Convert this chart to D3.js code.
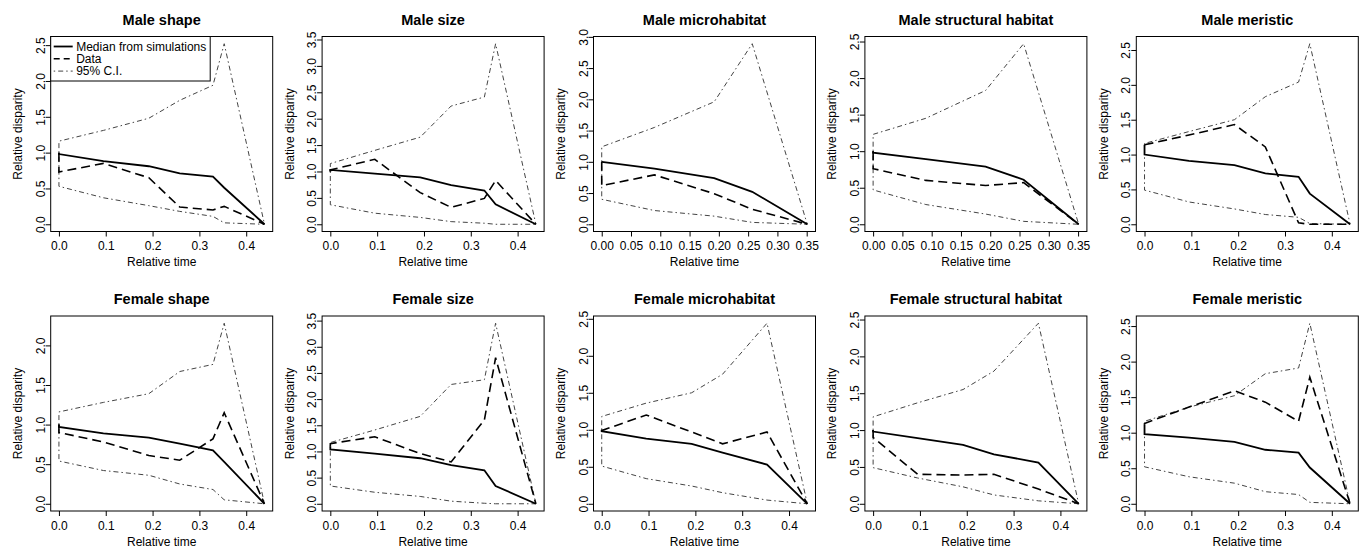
<!DOCTYPE html>
<html><head><meta charset="utf-8">
<script src="https://cdn.jsdelivr.net/npm/d3@7"></script>
<style>
body{margin:0;background:#fff}
svg{display:block}
text{font-family:"Liberation Sans",Arial,Helvetica,sans-serif;fill:#000}
</style>
</head><body><svg id="c" width="1360" height="547"></svg>
<script>
// ---------- data ----------
const panelTitles = ["Male shape","Male size","Male microhabitat","Male structural habitat","Male meristic",
  "Female shape","Female size","Female microhabitat","Female structural habitat","Female meristic"];
const timesFull = [0, 0, 0.095, 0.192, 0.258, 0.329, 0.353, 0.439];
const timesMaleHabitat = [0, 0, 0.09, 0.192, 0.257, 0.351];
const timesFemaleHabitat = [0, 0, 0.095, 0.192, 0.258, 0.353, 0.439];
const xTicksWide = [0, 0.1, 0.2, 0.3, 0.4];
const xTicksNarrow = [0, 0.05, 0.1, 0.15, 0.2, 0.25, 0.3, 0.35];
const legendLabels = ["Median from simulations", "Data", "95% C.I."];
const xLabel = "Relative time";
const yLabel = "Relative disparity";

const maleShapeMedian = [1.0, 0.98, 0.88, 0.81, 0.71, 0.665, 0.51, 0];
const maleShapeData   = [1.0, 0.73, 0.85, 0.65, 0.24, 0.2, 0.25, 0];
const maleShapeUpper  = [1.0, 1.16, 1.31, 1.48, 1.73, 1.94, 2.52, 0];
const maleShapeLower  = [1.0, 0.53, 0.37, 0.26, 0.18, 0.11, 0.02, 0];

const maleSizeMedian = [1.0, 1.03, 0.96, 0.89, 0.74, 0.64, 0.38, 0];
const maleSizeData   = [1.0, 1.03, 1.23, 0.6, 0.32, 0.49, 0.83, 0];
const maleSizeUpper  = [1.0, 1.15, 1.4, 1.65, 2.24, 2.41, 3.42, 0];
const maleSizeLower  = [1.0, 0.37, 0.21, 0.13, 0.05, 0.02, 0.0, 0];

const maleMicroMedian = [1.0, 1.0, 0.89, 0.74, 0.52, 0];
const maleMicroData   = [1.0, 0.62, 0.79, 0.49, 0.24, 0];
const maleMicroUpper  = [1.0, 1.24, 1.55, 1.96, 2.89, 0];
const maleMicroLower  = [1.0, 0.4, 0.22, 0.13, 0.03, 0];

const maleStructMedian = [1.0, 0.98, 0.89, 0.79, 0.61, 0];
const maleStructData   = [1.0, 0.76, 0.6, 0.53, 0.57, 0];
const maleStructUpper  = [1.0, 1.23, 1.45, 1.83, 2.47, 0];
const maleStructLower  = [1.0, 0.47, 0.27, 0.14, 0.04, 0];

const maleMerMedian = [1.14, 1.0, 0.91, 0.85, 0.73, 0.68, 0.44, 0];
const maleMerData   = [1.14, 1.14, 1.28, 1.43, 1.11, 0.02, 0.0, 0];
const maleMerUpper  = [1.14, 1.16, 1.33, 1.5, 1.83, 2.04, 2.59, 0];
const maleMerLower  = [1.14, 0.49, 0.32, 0.22, 0.14, 0.1, 0.01, 0];

const femShapeMedian = [1.0, 0.97, 0.89, 0.835, 0.76, 0.675, 0.53, 0];
const femShapeData   = [1.0, 0.9, 0.78, 0.61, 0.55, 0.82, 1.15, 0];
const femShapeUpper  = [1.0, 1.16, 1.28, 1.39, 1.67, 1.76, 2.28, 0];
const femShapeLower  = [1.0, 0.54, 0.42, 0.36, 0.25, 0.18, 0.05, 0];

const femSizeMedian = [1.1, 1.04, 0.96, 0.87, 0.74, 0.64, 0.34, 0];
const femSizeData   = [1.1, 1.15, 1.28, 0.96, 0.8, 1.6, 2.79, 0];
const femSizeUpper  = [1.1, 1.17, 1.41, 1.67, 2.28, 2.37, 3.45, 0];
const femSizeLower  = [1.1, 0.34, 0.22, 0.14, 0.05, 0.01, 0.0, 0];

const femMicroMedian = [1.0, 0.98, 0.88, 0.81, 0.69, 0.53, 0];
const femMicroData   = [1.0, 0.99, 1.2, 0.97, 0.81, 0.97, 0];
const femMicroUpper  = [1.0, 1.18, 1.36, 1.5, 1.75, 2.44, 0];
const femMicroLower  = [1.0, 0.51, 0.34, 0.24, 0.15, 0.05, 0];

const femStructMedian = [1.0, 0.98, 0.89, 0.8, 0.67, 0.56, 0];
const femStructData   = [1.0, 0.9, 0.4, 0.39, 0.4, 0.2, 0];
const femStructUpper  = [1.0, 1.18, 1.37, 1.55, 1.8, 2.45, 0];
const femStructLower  = [1.0, 0.49, 0.35, 0.23, 0.12, 0.04, 0];

const femMerMedian = [1.12, 0.98, 0.93, 0.87, 0.76, 0.72, 0.51, 0];
const femMerData   = [1.12, 1.13, 1.36, 1.59, 1.43, 1.16, 1.78, 0];
const femMerUpper  = [1.12, 1.16, 1.36, 1.52, 1.83, 1.91, 2.54, 0];
const femMerLower  = [1.12, 0.52, 0.38, 0.29, 0.17, 0.13, 0.02, 0];

const panelTimes = [timesFull, timesFull, timesMaleHabitat, timesMaleHabitat, timesFull,
  timesFull, timesFull, timesFemaleHabitat, timesFemaleHabitat, timesFull];
const panelXTicks = [xTicksWide, xTicksWide, xTicksNarrow, xTicksNarrow, xTicksWide,
  xTicksWide, xTicksWide, xTicksWide, xTicksWide, xTicksWide];
const panelSeries = [
  [maleShapeMedian, maleShapeData, maleShapeUpper, maleShapeLower],
  [maleSizeMedian, maleSizeData, maleSizeUpper, maleSizeLower],
  [maleMicroMedian, maleMicroData, maleMicroUpper, maleMicroLower],
  [maleStructMedian, maleStructData, maleStructUpper, maleStructLower],
  [maleMerMedian, maleMerData, maleMerUpper, maleMerLower],
  [femShapeMedian, femShapeData, femShapeUpper, femShapeLower],
  [femSizeMedian, femSizeData, femSizeUpper, femSizeLower],
  [femMicroMedian, femMicroData, femMicroUpper, femMicroLower],
  [femStructMedian, femStructData, femStructUpper, femStructLower],
  [femMerMedian, femMerData, femMerUpper, femMerLower]
];

// ---------- layout ----------
const plotW = 222, plotH = 195;
const colX0 = 50.7, colStep = 271.4;
const rowTops = [36.5, 316];
const fs = 12;
const styles = [
  {w: 1.8, dash: null, col: "#000"},
  {w: 1.6, dash: "9,5", col: "#000"},
  {w: 1, dash: "1.5,3,5,3", col: "#444"},
  {w: 1, dash: "1.5,3,5,3", col: "#444"}
];

const svg = d3.select("#c");

panelTitles.forEach((title, p) => {
  const col = p % 5, row = Math.floor(p / 5);
  const left = colX0 + col * colStep, top = rowTops[row];
  const g = svg.append("g").attr("transform", `translate(${left},${top})`);
  const times = panelTimes[p];
  const series = panelSeries[p];
  const xmax = d3.max(times);
  const ymax = d3.max(series.flat());
  const x = d3.scaleLinear().domain([-0.04 * xmax, xmax * 1.04]).range([0, plotW]);
  const y = d3.scaleLinear().domain([-0.04 * ymax, ymax * 1.04]).range([plotH, 0]);
  const narrow = panelXTicks[p] === xTicksNarrow;
  const xfmt = d3.format(narrow ? ".2f" : ".1f");
  const yTicks = d3.range(0, ymax * 1.04 + 1e-9, 0.5);

  // box
  g.append("rect").attr("x", 0).attr("y", 0).attr("width", plotW).attr("height", plotH)
    .attr("fill", "none").attr("stroke", "#000").attr("stroke-width", 1);

  // x axis
  const xa = g.append("g").attr("transform", `translate(0,${plotH})`)
    .call(d3.axisBottom(x).tickValues(panelXTicks[p]).tickFormat(xfmt).tickSizeOuter(0).tickSizeInner(5).tickPadding(5));
  xa.select(".domain").remove();
  xa.selectAll("text").attr("font-size", fs).attr("font-family", "Liberation Sans, Arial, sans-serif").attr("fill", "#000");
  xa.selectAll("line").attr("stroke", "#000");

  // y axis
  const ya = g.append("g")
    .call(d3.axisLeft(y).tickValues(yTicks).tickFormat(d3.format(".1f")).tickSizeOuter(0).tickSizeInner(5));
  ya.select(".domain").remove();
  ya.selectAll("line").attr("stroke", "#000");
  ya.selectAll("text").attr("x", null).attr("dy", null)
    .attr("transform", "translate(-6,0) rotate(-90)")
    .attr("text-anchor", "middle").attr("font-size", fs)
    .attr("font-family", "Liberation Sans, Arial, sans-serif").attr("fill", "#000");

  // labels
  g.append("text").attr("x", plotW / 2).attr("y", plotH + 34.5).attr("text-anchor", "middle")
    .attr("font-size", fs).text(xLabel);
  g.append("text").attr("transform", `translate(-28.5,${plotH / 2}) rotate(-90)`).attr("text-anchor", "middle")
    .attr("font-size", fs).text(yLabel);
  g.append("text").attr("x", plotW / 2).attr("y", -12).attr("text-anchor", "middle")
    .attr("font-size", 14.5).attr("font-weight", "bold").text(title);

  // lines
  const line = d3.line().x((d, i) => x(times[i])).y(d => y(d));
  [2, 3, 1, 0].forEach(k => {
    g.append("path").datum(series[k]).attr("d", line).attr("fill", "none")
      .attr("stroke", styles[k].col).attr("stroke-width", styles[k].w)
      .attr("stroke-dasharray", styles[k].dash).attr("stroke-linejoin", "miter");
  });

  // legend in first panel
  if (p === 0) {
    const lg = g.append("g");
    lg.append("rect").attr("x", 0).attr("y", 0).attr("width", 159.5).attr("height", 44.5)
      .attr("fill", "#fff").attr("stroke", "#000").attr("stroke-width", 1);
    legendLabels.forEach((lab, k) => {
      const cy = 10 + k * 12.3;
      lg.append("line").attr("x1", 3).attr("x2", 22).attr("y1", cy).attr("y2", cy)
        .attr("stroke", styles[k].col).attr("stroke-width", styles[k].w)
        .attr("stroke-dasharray", k === 1 ? "6,4" : styles[k].dash);
      lg.append("text").attr("x", 25.5).attr("y", cy + 4).attr("font-size", fs).text(lab);
    });
  }
});
</script>
</body></html>
